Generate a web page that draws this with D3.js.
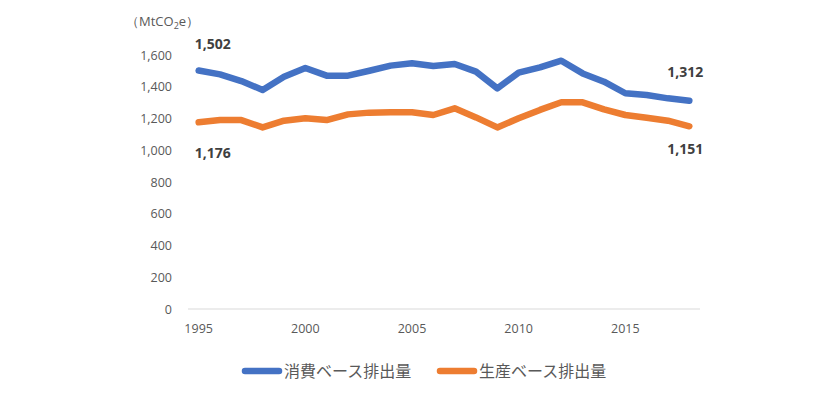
<!DOCTYPE html>
<html>
<head>
<meta charset="utf-8">
<script src="https://cdn.jsdelivr.net/npm/d3@7"></script>
<style>
  body { margin: 0; background: #fff; }
</style>
</head>
<body>
<div id="chart"></div>
<script>
const years = d3.range(1995, 2019);
const consumption = [1502, 1478, 1436, 1380, 1463, 1518, 1470, 1470, 1501, 1533, 1548, 1531,
                     1543, 1495, 1390, 1489, 1522, 1564, 1484, 1432, 1359, 1348, 1327, 1312];
const production = [1176, 1190, 1190, 1144, 1186, 1201, 1190, 1226, 1237, 1239, 1239, 1222,
                    1264, 1207, 1144, 1201, 1254, 1302, 1302, 1258, 1222, 1205, 1186, 1151];
const yTicks = [0, 200, 400, 600, 800, 1000, 1200, 1400, 1600];
const xTickYears = [1995, 2000, 2005, 2010, 2015];
const seriesNames = ["消費ベース排出量", "生産ベース排出量"];
const colors = ["#4472C4", "#ED7D31"];

const width = 824, height = 410;
const plotLeft = 188, plotRight = 700, plotTop = 55, plotBottom = 309;

const svg = d3.select("#chart").append("svg")
    .attr("width", width)
    .attr("height", height);

const x = d3.scaleBand().domain(years).range([plotLeft, plotRight]);
const y = d3.scaleLinear().domain([0, 1600]).range([plotBottom, plotTop]);
const cx = d => x(d) + x.bandwidth() / 2;

const tickFont = "'Open Sans', 'Noto Sans', sans-serif";

// y tick labels
svg.selectAll(".ytick").data(yTicks).enter().append("text")
    .attr("x", 172)
    .attr("y", d => y(d) + 4.5)
    .attr("text-anchor", "end")
    .attr("font-family", tickFont)
    .attr("font-size", "12.5px")
    .attr("fill", "#595959")
    .text(d => d3.format(",")(d));

// unit label
const unit = svg.append("text")
    .attr("x", 126)
    .attr("y", 26)
    .attr("font-family", tickFont)
    .attr("font-size", "13px")
    .attr("fill", "#595959");
unit.append("tspan").text("（MtCO");
unit.append("tspan").attr("font-size", "9px").attr("dy", 3).text("2");
unit.append("tspan").attr("dy", -3).text("e）");

// baseline
svg.append("line")
    .attr("x1", plotLeft).attr("x2", plotRight)
    .attr("y1", y(0)).attr("y2", y(0))
    .attr("stroke", "#d9d9d9")
    .attr("stroke-width", 1);

// x tick labels
svg.selectAll(".xtick").data(xTickYears).enter().append("text")
    .attr("x", d => cx(d))
    .attr("y", 333)
    .attr("text-anchor", "middle")
    .attr("font-family", tickFont)
    .attr("font-size", "12.5px")
    .attr("fill", "#595959")
    .text(d => d);

// lines
const line = d3.line()
    .x((d, i) => cx(years[i]))
    .y(d => y(d));

[consumption, production].forEach((vals, k) => {
    svg.append("path")
        .datum(vals)
        .attr("d", line)
        .attr("fill", "none")
        .attr("stroke", colors[k])
        .attr("stroke-width", 6.5)
        .attr("stroke-linejoin", "round")
        .attr("stroke-linecap", "round");
});

// data labels
const labels = [
    { year: 1995, v: consumption[0], dy: -22 },
    { year: 1995, v: production[0], dy: 36 },
    { year: 2018, v: consumption[23], dy: -24 },
    { year: 2018, v: production[23], dy: 28 }
];
svg.selectAll(".dlabel").data(labels).enter().append("text")
    .attr("x", d => d.year === 1995 ? cx(d.year) - 4 : cx(d.year) - 22)
    .attr("y", d => y(d.v) + d.dy)
    .attr("font-family", tickFont)
    .attr("font-size", "14px")
    .attr("font-weight", "bold")
    .attr("fill", "#404040")
    .text(d => d3.format(",")(d.v));

// legend
const legendX = [242, 437];
seriesNames.forEach((name, k) => {
    svg.append("line")
        .attr("x1", legendX[k] + 3).attr("x2", legendX[k] + 37)
        .attr("y1", 371).attr("y2", 371)
        .attr("stroke", colors[k])
        .attr("stroke-width", 6.5)
        .attr("stroke-linecap", "round");
    svg.append("text")
        .attr("x", legendX[k] + 42)
        .attr("y", 377)
        .attr("font-family", "'Noto Sans CJK JP', sans-serif")
        .attr("font-size", "16px")
        .attr("fill", "#595959")
        .text(name);
});
</script>
</body>
</html>
